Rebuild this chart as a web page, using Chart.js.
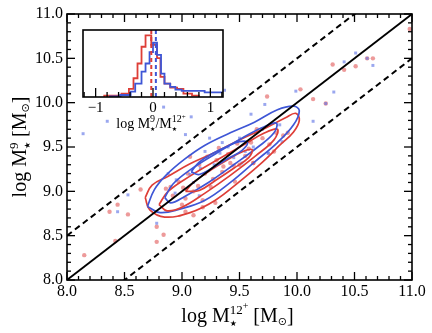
<!DOCTYPE html>
<html>
<head>
<meta charset="utf-8">
<title>log M9 vs log M12+</title>
<script src="https://cdn.jsdelivr.net/npm/chart.js@4.4.1/dist/chart.umd.min.js"></script>
<style>
  html, body { margin:0; padding:0; background:#fff; }
  #wrap { position:relative; width:432px; height:333px; }
  #wrap canvas { position:absolute; }
  #main { left:0; top:0; }
  #inset { left:55px; top:20px; }
</style>
</head>
<body>
<div id="wrap">
  <canvas id="main" width="432" height="333"></canvas>
  <canvas id="inset" width="190" height="115"></canvas>
</div>
<script>
const SERIF = '"Liberation Serif", "DejaVu Serif", serif';
const SYM = '"DejaVu Sans", sans-serif';

// main panel axes
const tickVals = [8.0, 8.5, 9.0, 9.5, 10.0, 10.5, 11.0];
const lineX = [8, 11];
const bandOffsets = [0.5, -0.5];

// scatter points
const redX = [8.15, 8.42, 8.37, 8.44, 8.53, 8.64, 8.78, 8.84, 8.78, 8.86, 10.31, 10.41, 10.51, 10.61, 10.66,
  10.03, 10.14, 10.25, 9.74, 9.92, 10.98, 9.46, 9.03, 9.10, 9.18, 9.29, 9.62,
  9.07, 9.22, 9.32, 9.48, 9.42, 9.45, 9.27, 9.14, 9.10, 9.01, 8.97, 9.18, 9.03, 9.76, 9.82, 9.88,
  9.62, 9.55, 9.35, 9.20, 9.30, 9.40, 9.60, 9.70, 9.05, 8.92, 9.25, 9.50, 9.65, 9.36, 8.90, 9.15, 9.58, 9.80, 9.00];
const redY = [8.28, 8.44, 8.77, 8.85, 8.74, 9.02, 8.43, 8.51, 8.60, 9.03, 10.43, 10.37, 10.41, 10.50, 10.50,
  10.15, 10.04, 9.99, 10.07, 9.66, 10.83, 9.11, 8.77, 8.73, 8.82, 8.87, 9.32,
  9.39, 9.39, 9.49, 9.54, 9.32, 9.29, 9.14, 9.06, 9.00, 9.04, 9.11, 8.90, 8.92, 9.53, 9.66, 9.63,
  9.32, 9.40, 9.22, 9.20, 9.35, 9.42, 9.55, 9.60, 9.20, 8.95, 9.05, 9.30, 9.70, 9.28, 9.05, 9.30, 9.48, 9.45, 8.85];
const blueX = [8.53, 8.44, 8.78, 10.51, 10.41, 10.66, 10.61, 9.99, 10.32, 10.25, 10.14, 9.72, 9.37, 8.84, 8.35,
  9.08, 8.14, 9.75, 9.87,
  9.03, 9.24, 9.33, 9.16, 9.07, 8.95, 9.52, 9.75, 9.60, 8.94, 9.15, 9.40, 9.50, 9.28, 9.45, 9.10, 9.70,
  9.62, 9.85, 9.20, 9.35, 9.55, 8.88];
const blueY = [8.96, 8.77, 8.64, 10.56, 10.46, 10.42, 10.50, 10.13, 10.12, 9.99, 9.79, 9.98, 10.14, 9.95, 9.79,
  9.84, 9.65, 9.43, 9.56,
  9.64, 9.60, 9.43, 9.26, 9.19, 9.13, 9.32, 9.43, 9.87, 8.98, 8.95, 9.50, 9.60, 9.30, 9.38, 9.10, 9.70,
  9.50, 9.75, 9.45, 9.55, 9.45, 9.20];

// density contours, vertices
const blueOuter = [[8.70,8.83],[8.76,9.02],[8.86,9.18],[9.02,9.36],[9.20,9.52],[9.42,9.66],[9.63,9.78],[9.83,9.92],
  [9.97,9.96],[10.02,9.91],[9.97,9.75],[9.83,9.55],[9.63,9.33],[9.43,9.11],[9.20,8.90],[8.98,8.80],[8.81,8.76]];
const redOuter = [[8.68,8.93],[8.74,9.07],[8.88,9.17],[9.07,9.31],[9.29,9.44],[9.50,9.58],[9.72,9.71],[9.90,9.83],
  [9.99,9.88],[10.02,9.80],[9.97,9.67],[9.85,9.52],[9.70,9.33],[9.50,9.11],[9.29,8.90],[9.07,8.76],[8.85,8.71],[8.72,8.79]];
const blueMid = [[8.85,8.93],[8.92,9.08],[9.08,9.25],[9.30,9.43],[9.52,9.60],[9.70,9.72],[9.82,9.77],
  [9.80,9.66],[9.66,9.50],[9.45,9.30],[9.23,9.10],[9.02,8.94],[8.90,8.87]];
const redMid = [[8.80,8.85],[8.88,9.00],[9.08,9.18],[9.30,9.35],[9.53,9.52],[9.72,9.66],[9.83,9.70],
  [9.80,9.58],[9.64,9.40],[9.42,9.18],[9.20,8.98],[9.00,8.82],[8.87,8.78]];
const blueInner = [[9.08,9.22],[9.15,9.33],[9.27,9.43],[9.40,9.51],[9.50,9.56],[9.57,9.55],
  [9.52,9.46],[9.40,9.37],[9.27,9.27],[9.15,9.19]];
const redInner = [[9.03,9.00],[9.10,9.10],[9.25,9.24],[9.40,9.36],[9.53,9.45],[9.61,9.47],
  [9.58,9.38],[9.45,9.26],[9.30,9.13],[9.15,9.01]];

// inset histogram of log(M9/M12+)
const insetTicks = [-1, 0, 1];
const redEdges = [-0.85, -0.55, -0.42, -0.34, -0.27, -0.20, -0.13, -0.03, 0.07, 0.13, 0.20, 0.30, 0.42, 0.53, 0.68, 0.80];
const redFrac  = [0.02, 0.05, 0.12, 0.28, 0.50, 0.75, 0.92, 0.78, 0.58, 0.30, 0.20, 0.14, 0.12, 0.05, 0.02, 0];
const blueEdges = [-0.75, -0.57, -0.39, -0.31, -0.20, -0.13, -0.06, 0.00, 0.07, 0.14, 0.20, 0.30, 0.39, 0.50, 0.90, 1.30];
const blueFrac  = [0.01, 0.03, 0.08, 0.20, 0.38, 0.50, 0.67, 0.81, 0.63, 0.35, 0.20, 0.15, 0.11, 0.09, 0.07, 0];
const redMedian = -0.03;
const blueMedian = 0.05;

const RED = 'rgb(222,62,55)';
const BLUE = 'rgb(62,86,214)';

const pts = (xs, ys) => xs.map((v, i) => ({x: v, y: ys[i]}));
const loop = c => c.concat([c[0]]).map(p => ({x: p[0], y: p[1]}));
const steps = (edges, h) => [{x: edges[0], y: 0}].concat(pts(edges, h));

function drawRich(ctx, parts, cx, cy, rot){
  let x = 0, start = 0, prevW = 0;
  const items = parts.map(p => {
    ctx.font = p.s + 'px ' + (p.f || SERIF);
    const w = ctx.measureText(p.t).width;
    let it;
    if(p.stack){ it = {p, x: start}; prevW = Math.max(prevW, w); x = start + prevW; }
    else { it = {p, x}; start = x; prevW = w; x += w; }
    return it;
  });
  ctx.save();
  ctx.translate(cx, cy);
  if(rot) ctx.rotate(-Math.PI/2);
  ctx.fillStyle = '#000'; ctx.textAlign = 'left'; ctx.textBaseline = 'alphabetic';
  items.forEach(it => {
    ctx.font = it.p.s + 'px ' + (it.p.f || SERIF);
    ctx.fillText(it.p.t, it.x - x/2, it.p.dy || 0);
  });
  ctx.restore();
}

const xTitle = [{t:'log M',s:20},{t:'12',s:13,dy:-8},{t:'★',s:8,dy:4,f:SYM,stack:true},{t:'+',s:10,dy:-13},
  {t:' [M',s:20},{t:'⊙',s:11,dy:3,f:SYM},{t:']',s:20}];
const yTitle = [{t:'log M',s:20},{t:'9',s:13,dy:-8},{t:'★',s:8,dy:4,f:SYM,stack:true},
  {t:' [M',s:20},{t:'⊙',s:11,dy:3,f:SYM},{t:']',s:20}];
const insetTitle = [{t:'log M',s:14},{t:'9',s:10,dy:-6},{t:'★',s:6,dy:3,f:SYM,stack:true},{t:'/M',s:14},
  {t:'12',s:10,dy:-6},{t:'★',s:6,dy:3,f:SYM,stack:true},{t:'+',s:7,dy:-9}];

function tick(ctx, x1, y1, x2, y2){ ctx.beginPath(); ctx.moveTo(x1, y1); ctx.lineTo(x2, y2); ctx.stroke(); }

// frame with inward ticks on all four sides, plus axis titles
const mainFrame = {
  id: 'mainFrame',
  afterDatasetsDraw(chart){
    const {ctx, chartArea: a, scales: {x, y}} = chart;
    ctx.save();
    ctx.strokeStyle = '#000'; ctx.lineWidth = 1.3;
    for(let i = 0; i <= 30; i++){
      const v = 8 + i/10, len = i % 5 === 0 ? 8 : 4;
      const px = x.getPixelForValue(v), py = y.getPixelForValue(v);
      tick(ctx, px, a.bottom, px, a.bottom - len); tick(ctx, px, a.top, px, a.top + len);
      tick(ctx, a.left, py, a.left + len, py); tick(ctx, a.right, py, a.right - len, py);
    }
    ctx.lineWidth = 1.6;
    ctx.strokeRect(a.left, a.top, a.right - a.left, a.bottom - a.top);
    ctx.restore();
    drawRich(ctx, xTitle, (a.left + a.right)/2 - 2, 322);
    drawRich(ctx, yTitle, 26, 147, true);
  }
};

const dataLine = (data, color, width, dash) => ({data, showLine: true, borderColor: color, borderWidth: width,
  borderDash: dash || [], pointRadius: 0, fill: false, tension: 0});
const contour = (c, color) => ({data: loop(c), showLine: true, borderColor: color, borderWidth: 1.7,
  pointRadius: 0, fill: false, tension: 0.4});

new Chart(document.getElementById('main'), {
  type: 'scatter',
  data: {
    datasets: [
      dataLine(lineX.map(v => ({x: v, y: v})), '#000', 1.8),
      contour(blueInner, BLUE), contour(redInner, RED),
      contour(blueMid, BLUE), contour(redMid, RED),
      contour(blueOuter, BLUE), contour(redOuter, RED),
      ...bandOffsets.map(o => dataLine(lineX.map(v => ({x: v, y: v + o})), '#000', 2, [6, 4])),
      {data: pts(blueX, blueY), pointStyle: 'rect', pointRadius: 2.1, backgroundColor: 'rgba(100,120,230,0.65)', borderWidth: 0},
      {data: pts(redX, redY), pointStyle: 'circle', pointRadius: 2.2, backgroundColor: 'rgba(228,100,100,0.65)', borderWidth: 0}
    ]
  },
  options: {
    responsive: false, animation: false,
    layout: {padding: {left: 0, right: 20, top: 14, bottom: 0}},
    plugins: {legend: {display: false}, tooltip: {enabled: false}},
    scales: {
      x: {
        type: 'linear', min: 8, max: 11,
        afterBuildTicks: s => { s.ticks = tickVals.map(v => ({value: v})); },
        afterFit: s => { s.height = 53; },
        grid: {display: false, drawTicks: false}, border: {display: false},
        ticks: {callback: v => v.toFixed(1), color: '#000', font: {family: SERIF, size: 16}, padding: 2, maxRotation: 0, autoSkip: false}
      },
      y: {
        type: 'linear', min: 8, max: 11,
        afterBuildTicks: s => { s.ticks = tickVals.map(v => ({value: v})); },
        afterFit: s => { s.width = 67; },
        grid: {display: false, drawTicks: false}, border: {display: false},
        ticks: {callback: v => v.toFixed(1), color: '#000', font: {family: SERIF, size: 16}, padding: 4, autoSkip: false}
      }
    }
  },
  plugins: [mainFrame]
});

// inset: white box, bottom ticks, frame and label
const insetFrame = {
  id: 'insetFrame',
  beforeDatasetsDraw(chart){
    const {ctx, chartArea: a} = chart;
    ctx.save(); ctx.fillStyle = '#fff'; ctx.fillRect(a.left, a.top, a.right - a.left, a.bottom - a.top); ctx.restore();
  },
  afterDatasetsDraw(chart){
    const {ctx, chartArea: a, scales: {x}} = chart;
    ctx.save();
    ctx.strokeStyle = '#000'; ctx.lineWidth = 1.3;
    for(let i = -6; i <= 6; i++){
      const px = x.getPixelForValue(i/5), len = i % 5 === 0 ? 9 : 5;
      tick(ctx, px, a.bottom, px, a.bottom - len);
    }
    ctx.lineWidth = 1.6;
    ctx.strokeRect(a.left, a.top, a.right - a.left, a.bottom - a.top);
    ctx.restore();
    drawRich(ctx, insetTitle, 96, 108);
  }
};

const vline = (v, color) => ({data: [{x: v, y: 0}, {x: v, y: 1}], showLine: true, borderColor: color,
  borderWidth: 2, borderDash: [4, 3], pointRadius: 0, fill: false});
const hist = (edges, h, color) => ({data: steps(edges, h), showLine: true, stepped: 'before', borderColor: color,
  borderWidth: 1.8, pointRadius: 0, fill: false});

new Chart(document.getElementById('inset'), {
  type: 'scatter',
  data: {
    datasets: [
      vline(blueMedian, BLUE), vline(redMedian, RED),
      hist(blueEdges, blueFrac, BLUE), hist(redEdges, redFrac, RED)
    ]
  },
  options: {
    responsive: false, animation: false,
    layout: {padding: {left: 28, right: 22, top: 10, bottom: 0}},
    plugins: {legend: {display: false}, tooltip: {enabled: false}},
    scales: {
      x: {
        type: 'linear', min: -1.22, max: 1.22,
        afterBuildTicks: s => { s.ticks = insetTicks.map(v => ({value: v})); },
        afterFit: s => { s.height = 38; },
        grid: {display: false, drawTicks: false}, border: {display: false},
        ticks: {callback: v => v < 0 ? '\u2212' + Math.abs(v) : String(v), color: '#000',
          font: {family: SERIF, size: 15}, padding: 2, maxRotation: 0, autoSkip: false}
      },
      y: {type: 'linear', min: 0, max: 1, display: false}
    }
  },
  plugins: [insetFrame]
});
</script>
</body>
</html>
